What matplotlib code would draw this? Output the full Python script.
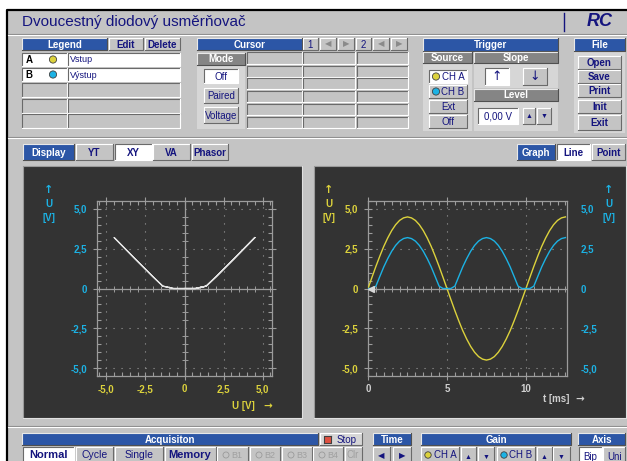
import numpy as np
import matplotlib
matplotlib.use("Agg")
import matplotlib.pyplot as plt
from matplotlib.patches import Rectangle, Circle
from matplotlib.ticker import MultipleLocator, FuncFormatter

plt.rcParams['font.family'] = ['Liberation Sans', 'DejaVu Sans']

W, H = 627, 461

# measured signals, sampled every 0.25 ms
t_ms = np.arange(0, 12.51, 0.25)
u_in = [0.00, 0.70, 1.39, 2.04, 2.65, 3.18, 3.64, 4.01, 4.28, 4.44, 4.50,
        4.44, 4.28, 4.01, 3.64, 3.18, 2.65, 2.04, 1.39, 0.70, 0.00,
        -0.70, -1.39, -2.04, -2.65, -3.18, -3.64, -4.01, -4.28, -4.44, -4.50,
        -4.44, -4.28, -4.01, -3.64, -3.18, -2.65, -2.04, -1.39, -0.70, 0.00,
        0.70, 1.39, 2.04, 2.65, 3.18, 3.64, 4.01, 4.28, 4.44, 4.50]
u_out = [0.00, 0.00, 0.15, 0.76, 1.36, 1.88, 2.34, 2.71, 2.98, 3.14, 3.20,
         3.14, 2.98, 2.71, 2.34, 1.88, 1.36, 0.76, 0.15, 0.00, 0.00,
         0.00, 0.15, 0.76, 1.36, 1.88, 2.34, 2.71, 2.98, 3.14, 3.20,
         3.14, 2.98, 2.71, 2.34, 1.88, 1.36, 0.76, 0.15, 0.00, 0.00,
         0.00, 0.15, 0.76, 1.36, 1.88, 2.34, 2.71, 2.98, 3.14, 3.20]
trigger_t, trigger_level = 0.0, 0.0

legend_rows = [("A", "Vstup"), ("B", "Výstup")]
file_buttons = ["Open", "Save", "Print", "Init", "Exit"]

BG = '#c4c4c4'
LIGHT = '#d6d6d6'
BLUE = '#2c56a6'
DHDR = '#858585'
NAVY = '#14147e'
PLOT_BG = '#333333'
YEL = '#dcd23c'
CYAN = '#1cb2e4'
GRID = '#9c9c9c'
LBL = '#d0d0d0'
ARROW_FONT = 'DejaVu Sans'

fig = plt.figure(figsize=(W / 100, H / 100), dpi=100)
bg = fig.add_axes([0, 0, 1, 1])
bg.set_xlim(0, W)
bg.set_ylim(H, 0)
bg.axis('off')


def box(x0, y0, x1, y1, face, tl=None, br=None, z=1):
    bg.add_patch(Rectangle((x0, y0), x1 - x0, y1 - y0, facecolor=face,
                           edgecolor='none', zorder=z))
    if tl:
        bg.plot([x0, x0, x1], [y1, y0, y0], color=tl, lw=0.8, zorder=z + 0.1)
    if br:
        bg.plot([x0, x1, x1], [y1, y1, y0], color=br, lw=0.8, zorder=z + 0.1)


def txt(x, y, s, color=NAVY, size=7, bold=False, ha='center', **kw):
    bg.text(x, y, s, color=color, fontsize=size, ha=ha, va='center',
            fontweight='bold' if bold else 'normal', zorder=5, **kw)


def button(x0, y0, x1, y1, label='', sunk=False, face=BG, color=NAVY,
           bold=True, size=7, **kw):
    if sunk:
        box(x0, y0, x1, y1, face, '#6a6a6a', 'white', z=2)
    else:
        box(x0, y0, x1, y1, face, 'white', '#6a6a6a', z=2)
    if label:
        txt((x0 + x1) / 2, (y0 + y1) / 2 + 0.5, label, color, size, bold, **kw)


def header(x0, y0, x1, y1, label, face=BLUE):
    box(x0, y0, x1, y1, face, '#e8e8e8', '#505050', z=2)
    txt((x0 + x1) / 2, (y0 + y1) / 2 + 0.5, label, 'white', 7, True)


def dot(x, y, c, r=3.6, hollow=False):
    bg.add_patch(Circle((x, y), r, facecolor='none' if hollow else c,
                        edgecolor='#9a9a9a' if hollow else '#404040',
                        lw=0.6, zorder=6))


# window
box(0, 0, W, H, 'white', z=0)
box(7, 10, W + 2, H + 2, BG, z=0.5)
bg.plot([7, 7, W], [H, 10, 10], color='black', lw=1.6, zorder=1)
for yy in (34, 137, 426):
    bg.plot([8, W], [yy, yy], color='#8a8a8a', lw=0.8, zorder=1)
    bg.plot([8, W], [yy + 1, yy + 1], color='white', lw=0.8, zorder=1)

txt(22, 22, "Dvoucestný diodový usměrňovač", NAVY, 11, ha='left')
bg.plot([564, 564], [13, 31], color=NAVY, lw=1.0, zorder=3)
txt(600, 22, "RC", NAVY, 13, True, style='italic')

# legend block
header(22, 38, 107, 50, "Legend")
button(109, 38, 143, 50, "Edit")
button(145, 38, 180, 50, "Delete")
ry = 53
for (name, label), c in zip(legend_rows, [YEL, CYAN]):
    button(22, ry, 67, ry + 13, sunk=True, face='white')
    button(68, ry, 180, ry + 13, sunk=True, face='white')
    txt(29, ry + 7, name, 'black', 7, True)
    dot(53, ry + 6.5, c)
    txt(70, ry + 7, label, NAVY, 6.5, ha='left')
    ry += 15
for y0 in (83, 99, 114):
    button(22, y0, 67, y0 + 14, sunk=True)
    button(68, y0, 180, y0 + 14, sunk=True)

# cursor block
header(197, 38, 302, 50, "Cursor")
for x0, x1, s, col in [(303, 318, "1", NAVY), (320, 336, "◀", '#8a8a8a'),
                       (338, 354, "▶", '#8a8a8a'), (356, 371, "2", NAVY),
                       (373, 389, "◀", '#8a8a8a'), (391, 407, "▶", '#8a8a8a')]:
    button(x0, 38, x1, 50, s, color=col, bold=False, size=6 if s in "◀▶" else 7)
header(197, 53, 245, 65, "Mode", DHDR)
box(197, 66, 245, 129, LIGHT, z=1.5)
button(204, 69, 238, 83, "Off", sunk=True, face='white', bold=False)
button(204, 88, 238, 103, "Paired", bold=False)
button(204, 107, 238, 123, "Voltage", bold=False)
for x0, x1 in [(247, 302), (303, 355), (357, 408)]:
    for y0, y1 in [(52, 64), (66, 77), (78, 89), (91, 102), (104, 115), (117, 128)]:
        button(x0, y0, x1, y1, sunk=True)

# trigger block
header(423, 38, 558, 51, "Trigger")
header(423, 52, 472, 63, "Source", DHDR)
header(474, 52, 558, 63, "Slope", DHDR)
box(423, 64, 472, 131, LIGHT, z=1.5)
button(429, 70, 467, 83, sunk=True, face='white')
dot(436, 76.5, YEL)
txt(453, 77, "CH A", NAVY, 7)
button(429, 85, 467, 98)
dot(436, 91.5, CYAN)
txt(453, 92, "CH B", NAVY, 7)
button(429, 100, 467, 113, "Ext", bold=False)
button(429, 115, 467, 128, "Off", bold=False)
box(474, 64, 558, 88, LIGHT, z=1.5)
button(485, 68, 509, 85, "↑", sunk=True, face='white', bold=False, size=9,
       family=ARROW_FONT)
button(523, 68, 547, 85, "↓", bold=False, size=9, family=ARROW_FONT)
header(474, 89, 558, 101, "Level", DHDR)
box(474, 102, 558, 131, LIGHT, z=1.5)
button(478, 108, 518, 124, "0,00 V", sunk=True, face='white', bold=False)
button(523, 108, 535, 124, "▲", size=5)
button(537, 108, 551, 124, "▼", size=5)

# file block
header(574, 38, 625, 51, "File")
box(574, 52, 625, 133, LIGHT, z=1.5)
for (y0, y1), s in zip([(56, 69), (70, 83), (84, 97), (100, 113), (115, 130)], file_buttons):
    button(578, y0, 621, y1, s)

# display selectors
header(23, 144, 74, 160, "Display")
button(76, 144, 113, 160, "YT")
button(115, 144, 152, 160, "XY", sunk=True, face='white')
button(153, 144, 190, 160, "VA")
button(192, 144, 228, 160, "Phasor")
header(517, 144, 555, 160, "Graph")
button(557, 144, 590, 160, "Line", sunk=True, face='white')
button(592, 144, 625, 160, "Point")

# plot panels
box(23, 166, 302, 418, PLOT_BG, '#9a9a9a', '#e0e0e0', z=1.5)
box(314, 166, 626, 418, PLOT_BG, '#9a9a9a', '#e0e0e0', z=1.5)


def px_axes(x0, y0, x1, y1):
    return fig.add_axes([x0 / W, 1 - y1 / H, (x1 - x0) / W, (y1 - y0) / H])


def volt_fmt(v, pos):
    return "0" if abs(v) < 1e-9 else f"{v:.1f}".replace(".", ",")


def style(ax, xmajor):
    ax.set_facecolor(PLOT_BG)
    ax.patch.set_alpha(0)
    for s in ax.spines.values():
        s.set_color(GRID)
        s.set_linewidth(0.9)
    ax.xaxis.set_major_locator(MultipleLocator(xmajor))
    ax.xaxis.set_minor_locator(MultipleLocator(0.5))
    ax.yaxis.set_major_locator(MultipleLocator(2.5))
    ax.yaxis.set_minor_locator(MultipleLocator(0.5))
    ax.yaxis.set_major_formatter(FuncFormatter(volt_fmt))
    ax.tick_params(which='major', direction='inout', length=6, width=0.8,
                   color=GRID, top=True, right=True, labelsize=7)
    ax.tick_params(which='minor', direction='in', length=3, width=0.8,
                   color=GRID, top=True, right=True)
    ax.tick_params(axis='y', pad=4)
    ax.tick_params(axis='x', pad=3)
    for lab in ax.get_xticklabels() + ax.get_yticklabels():
        lab.set_fontweight('bold')
    ax.grid(True, which='major', color=GRID, lw=0.8, ls=(0, (1, 6.2)))
    ax.axhline(0, color=GRID, lw=0.9, zorder=1)
    mx = ax.xaxis.get_minorticklocs()
    ax.plot(mx, np.zeros_like(mx), ls='none', marker='|', ms=4, mew=0.7,
            color=GRID, zorder=1)


# XY plot
axL = px_axes(97, 201, 272, 376)
axL.set_xlim(-5.6, 5.6)
axL.set_ylim(-5.5, 5.5)
axL.xaxis.set_major_formatter(FuncFormatter(volt_fmt))
style(axL, 2.5)
axL.axvline(0, color=GRID, lw=0.9, zorder=1)
my = axL.yaxis.get_minorticklocs()
axL.plot(np.zeros_like(my), my, ls='none', marker='_', ms=4, mew=0.7,
         color=GRID, zorder=1)
axL.plot(u_in, u_out, color='#e2e2e2', lw=0.9, zorder=3)
axL.tick_params(axis='x', labelcolor=YEL)
axL.tick_params(axis='y', labelcolor=CYAN)

# YT plot
axR = px_axes(368, 201, 567, 376)
axR.set_xlim(0, 12.6)
axR.set_ylim(-5.5, 5.5)
style(axR, 5)
axR.plot(t_ms, u_in, color=YEL, lw=1.0, zorder=3)
axR.plot(t_ms, u_out, color=CYAN, lw=1.0, zorder=3)
axR.plot(trigger_t + 0.2, trigger_level, marker='<', ms=5, color='#d8d8d8',
         clip_on=False, zorder=4)
axR.tick_params(axis='x', labelcolor=LBL)
axR.tick_params(axis='y', labelcolor=YEL)
axR2 = axR.twinx()
axR2.set_ylim(-5.5, 5.5)
axR2.yaxis.set_major_locator(MultipleLocator(2.5))
axR2.yaxis.set_major_formatter(FuncFormatter(volt_fmt))
axR2.tick_params(axis='y', length=0, pad=10, labelsize=7, labelcolor=CYAN)
for lab in axR2.get_yticklabels():
    lab.set_fontweight('bold')
for s in axR2.spines.values():
    s.set_visible(False)

# axis captions
for x, c in [(49, CYAN), (329, YEL), (609, CYAN)]:
    txt(x, 190, "↑", c, 8, True, family=ARROW_FONT)
    txt(x, 204, "U", c, 7, True)
    txt(x, 218, "[V]", c, 7, True)
txt(243, 406, "U [V]", YEL, 7, True)
txt(268, 406, "→", YEL, 7.5, True, family=ARROW_FONT)
txt(556, 399, "t [ms]", LBL, 7, True)
txt(580, 399, "→", LBL, 7.5, True, family=ARROW_FONT)

# bottom controls
header(22, 433, 318, 445, "Acquisiton")
box(320, 433, 362, 445, LIGHT, 'white', '#6a6a6a', z=2)
box(324, 436, 331, 443, '#e05040', '#404040', '#404040', z=3)
txt(347, 439.5, "Stop", NAVY, 7)
header(373, 433, 411, 445, "Time")
header(421, 433, 571, 445, "Gain")
header(578, 433, 625, 445, "Axis")
yb0, yb1 = 447, 466
button(23, yb0, 74, yb1, sunk=True, face='white')
txt(48, 455, "Normal", NAVY, 8, True)
button(76, yb0, 113, yb1)
txt(95, 455, "Cycle", NAVY, 7.5)
button(115, yb0, 163, yb1)
txt(139, 455, "Single", NAVY, 7.5)
button(165, yb0, 216, yb1)
txt(190, 455, "Memory", NAVY, 8, True)
for (x0, x1), s in zip([(217, 248), (250, 280), (282, 312), (313, 343)],
                       ["B1", "B2", "B3", "B4"]):
    button(x0, yb0, x1, yb1)
    dot(x0 + 9, 455, None, 3, hollow=True)
    txt(x0 + 20, 455, s, '#a0a0a0', 6.5)
button(345, yb0, 362, yb1)
txt(353, 455, "Clr", '#a0a0a0', 7)
button(373, yb0, 390, yb1, "◀", size=6)
button(393, yb0, 411, yb1, "▶", size=6)
button(421, yb0, 459, yb1)
dot(428, 455, YEL, 3.2)
txt(445, 455, "CH A", NAVY, 7)
button(461, yb0, 476, yb1, "▲", size=5)
button(478, yb0, 494, yb1, "▼", size=5)
button(497, yb0, 535, yb1)
dot(504, 455, CYAN, 3.2)
txt(521, 455, "CH B", NAVY, 7)
button(537, yb0, 552, yb1, "▲", size=5)
button(553, yb0, 570, yb1, "▼", size=5)
button(579, yb0, 602, yb1, "Bip", sunk=True, face='white', bold=False)
button(603, yb0, 625, yb1, "Uni", bold=False)

fig.savefig("out.png", dpi=100)
